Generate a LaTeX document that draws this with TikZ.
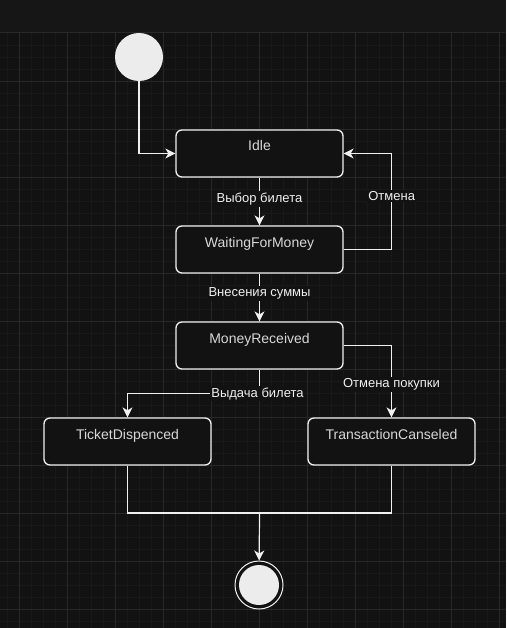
\documentclass[tikz,border=0pt]{standalone}
\usepackage{fontspec}
\setmainfont{Liberation Sans}
\usetikzlibrary{arrows.meta}

\definecolor{bandbg}{HTML}{161616}
\definecolor{canvas}{HTML}{121212}
\definecolor{gridmin}{HTML}{191919}
\definecolor{gridmaj}{HTML}{282828}
\definecolor{ink}{HTML}{F0F0F0}
\definecolor{boxtxt}{HTML}{D8D8D8}
\definecolor{dot}{HTML}{ECECEC}

\tikzset{
  state/.style={rectangle, draw=ink, line width=1.3pt, rounded corners=6pt, fill=canvas,
    minimum width=167pt, inner xsep=0pt, inner ysep=0pt, text height=21pt, text depth=26pt,
    text=boxtxt, font=\fontsize{14}{16}\selectfont},
  lbl/.style={fill=canvas, inner sep=1.5pt, text=ink, font=\fontsize{13}{15}\selectfont},
  flow/.style={draw=ink, line width=1.2pt, -{Stealth[length=10pt,width=10pt,inset=3pt]}},
  wire/.style={draw=ink, line width=1.2pt},
  init/.style={circle, fill=dot, minimum size=48pt, inner sep=0pt},
  final/.style={circle, draw=ink, line width=1pt, fill=canvas, minimum size=48pt, inner sep=0pt}
}

\begin{document}
\begin{tikzpicture}[x=1pt, y=-1pt]

  % ==========================================
  % 1. FONDO Y CUADRICULA
  % ==========================================
  \useasboundingbox (0,0) rectangle (506,628);
  \fill[bandbg] (0,0) rectangle (506,33);
  \fill[canvas] (0,33) rectangle (506,628);
  \foreach \x in {7.7,19.7,...,506} \draw[gridmin, line width=0.6pt] (\x,33) -- (\x,628);
  \foreach \y in {45,57,...,628} \draw[gridmin, line width=0.6pt] (0,\y) -- (506,\y);
  \foreach \x in {19.7,67.7,...,506} \draw[gridmaj, line width=0.8pt] (\x,33) -- (\x,628);
  \foreach \y in {81,129,...,628} \draw[gridmaj, line width=0.8pt] (0,\y) -- (506,\y);
  \draw[gridmaj, line width=1pt] (0,33) -- (506,33);

  % ==========================================
  % 2. ESTADOS
  % ==========================================
  \node[init] (start) at (139,57) {};
  \node[state] (idle)   at (259.5,153.5) {Idle};
  \node[state] (wait)   at (259.5,249.5) {WaitingForMoney};
  \node[state] (money)  at (259.5,345.5) {MoneyReceived};
  \node[state] (ticket) at (127.5,441.5) {TicketDispenced};
  \node[state] (trans)  at (391.5,441.5) {TransactionCanseled};
  \node[final] (stop)   at (259,585) {};
  \fill[dot] (stop.center) circle (20);
  \coordinate (join) at (259.5,513);

  % ==========================================
  % 3. TRANSICIONES
  % ==========================================
  \draw[flow] (start) |- (idle);
  \draw[flow] (idle) -- node[lbl, pos=0.45] {Выбор билета} (wait);
  \draw[flow] (wait.east) -- ++(48,0) |- node[lbl, pos=0.28] {Отмена} (idle.east);
  \draw[flow] (wait) -- node[lbl, pos=0.42] {Внесения суммы} (money);
  \draw[flow] (money.south) -- ++(0,24) node[lbl, xshift=-2pt] {Выдача билета} -| (ticket.north);
  \draw[flow] (money.east) -| node[lbl, pos=0.77] {Отмена покупки} (trans.north);
  \draw[wire] (ticket.south) |- (join) -| (trans.south);
  \draw[flow] (join) -- (stop);

\end{tikzpicture}
\end{document}
